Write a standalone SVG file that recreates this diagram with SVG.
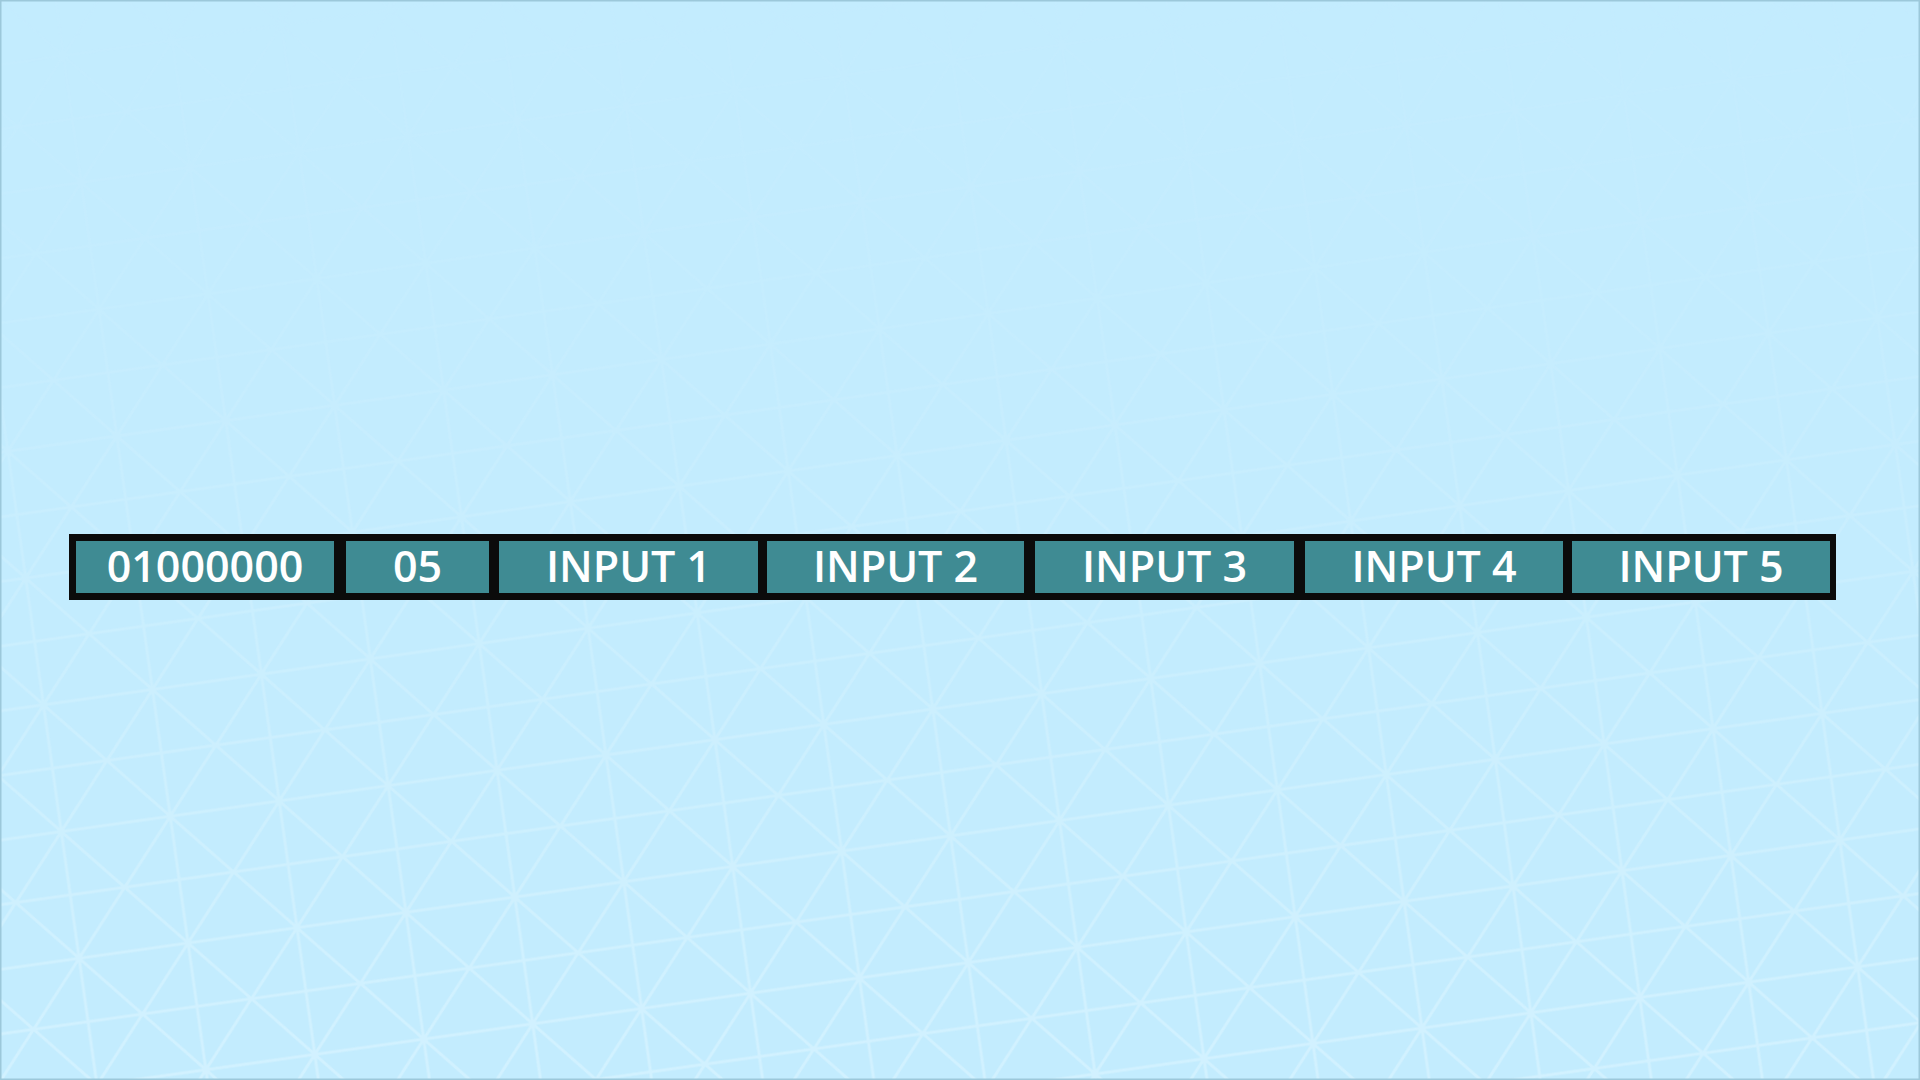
<svg xmlns="http://www.w3.org/2000/svg" width="1920" height="1080" viewBox="0 0 1920 1080">
  <defs>
    <style>
      .cell { fill: #3f8b93; }
      .lbl { font-family: "Open Sans", "Noto Sans", "DejaVu Sans", sans-serif; font-weight: 600; font-size: 43px; fill: #ffffff; text-anchor: middle; }
      .mesh { stroke: #dcf5ff; stroke-width: 3; fill: none; }
    </style>
    <pattern id="tri" width="110" height="128" patternUnits="userSpaceOnUse" patternTransform="rotate(-8)">
      <path class="mesh" d="M0 0 L110 0 M0 64 L110 64 M0 128 L110 128 M0 0 L55 64 L110 0 M0 128 L55 64 L110 128 M55 -64 L55 192"/>
    </pattern>
    <linearGradient id="fade" x1="0" y1="0" x2="0" y2="1">
      <stop offset="0" stop-color="#fff" stop-opacity="0.04"/>
      <stop offset="0.3" stop-color="#fff" stop-opacity="0.12"/>
      <stop offset="1" stop-color="#fff" stop-opacity="0.6"/>
    </linearGradient>
    <mask id="m">
      <rect width="1920" height="1080" fill="url(#fade)"/>
    </mask>
  </defs>
  <rect width="1920" height="1080" fill="#c3ecfe"/>
  <rect width="1920" height="1080" fill="url(#tri)" mask="url(#m)"/>
  <rect x="0.5" y="0.5" width="1919" height="1079" fill="none" stroke="#9cc8da" stroke-width="2"/>

  <g id="bar">
    <rect x="69" y="534" width="1767" height="66" fill="#0b0b0b"/>
  </g>
  <g id="node-header">
    <rect class="cell" x="76" y="541" width="258" height="52"/>
    <text class="lbl" x="205" y="582">01000000</text>
  </g>
  <g id="node-count">
    <rect class="cell" x="346" y="541" width="143" height="52"/>
    <text class="lbl" x="417.5" y="582">05</text>
  </g>
  <g id="node-input1">
    <rect class="cell" x="499" y="541" width="259" height="52"/>
    <text class="lbl" x="628.5" y="582">INPUT 1</text>
  </g>
  <g id="node-input2">
    <rect class="cell" x="767" y="541" width="257" height="52"/>
    <text class="lbl" x="895.5" y="582">INPUT 2</text>
  </g>
  <g id="node-input3">
    <rect class="cell" x="1035" y="541" width="259" height="52"/>
    <text class="lbl" x="1164.5" y="582">INPUT 3</text>
  </g>
  <g id="node-input4">
    <rect class="cell" x="1305" y="541" width="258" height="52"/>
    <text class="lbl" x="1434" y="582">INPUT 4</text>
  </g>
  <g id="node-input5">
    <rect class="cell" x="1572" y="541" width="258" height="52"/>
    <text class="lbl" x="1701" y="582">INPUT 5</text>
  </g>
  <g id="connectors"></g>
</svg>
